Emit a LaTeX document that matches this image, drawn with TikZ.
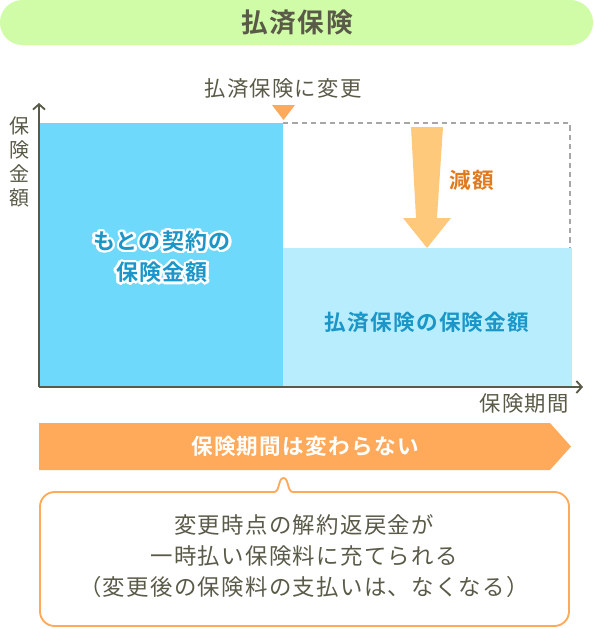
\documentclass[tikz,border=0pt]{standalone}
\usepackage{fontspec}
\setmainfont[LetterSpace=6,BoldFont={Noto Sans CJK JP Bold}]{Noto Sans CJK JP}
\usepackage{contour}
\contourlength{1.8pt}
\usetikzlibrary{arrows.meta,positioning}

\definecolor{barGreen}{HTML}{D0FCA8}
\definecolor{inkGray}{HTML}{5A5A48}
\definecolor{markOrange}{HTML}{FFA95A}
\definecolor{dropOrange}{HTML}{FFC97C}
\definecolor{cutOrange}{HTML}{E07A1F}
\definecolor{oldBlue}{HTML}{6ED9FB}
\definecolor{newBlue}{HTML}{B8EDFD}
\definecolor{labelBlue}{HTML}{1A96C8}

\begin{document}
\begin{tikzpicture}[x=0.75pt,y=-0.75pt,
    word/.style={inner sep=0pt,text=inkGray,font=\fontsize{16}{18}\selectfont},
    heavy/.style={word,font=\fontsize{16.2}{18}\selectfont\bfseries},
    axis/.style={draw=inkGray,line width=1.4pt,-{Straight Barb[length=4pt,width=9pt]}},
    rim/.style={draw=markOrange,line width=1.4pt,line join=round}]
    \useasboundingbox (0,0) rectangle (593,628);

    % title
    \fill[barGreen,rounded corners=16.8pt] (0,0) rectangle (593,45);
    \node[heavy,font=\fontsize{20}{22}\selectfont\bfseries] (title) at (297,22.5) {払済保険};

    % amounts
    \fill[oldBlue] (39,123) rectangle (283,387);
    \fill[newBlue] (283,248) rectangle (572,387);
    \draw[gray!70,line width=1.1pt,dash pattern=on 4pt off 3pt]
        (283,123) -- (570,123) -- (570,248);
    \fill[dropOrange] (411,127) -- (443,127) -- (437,218) -- (451,218)
        -- (427,248) -- (403,218) -- (416,218) -- cycle;
    \node[heavy,text=cutOrange] (cut) at (472,180) {減額};

    \node[word] (change) at (283,88) {払済保険に変更};
    \fill[markOrange] (272,105) -- (295,105) -- (283.5,120) -- cycle;

    \node[heavy,text=labelBlue,align=center,font=\fontsize{16.5}{23.5}\selectfont\bfseries]
        (old) at (162,258) {\contour{white}{もとの契約の}\\\contour{white}{保険金額}};
    \node[heavy,text=labelBlue] (new) at (427,322) {払済保険の保険金額};

    % axes
    \coordinate (O) at (39,387);
    \draw[axis] (O) -- (39,103);
    \draw[axis] (O) -- (583,387);
    \node[word,align=center,font=\fontsize{15}{18}\selectfont] (ylab) at (19,162)
        {保\\険\\金\\額};
    \node[word,anchor=north east] (xlab) at (569,393) {保険期間};

    % term
    \fill[markOrange] (39,423) -- (550,423) -- (571,446.5) -- (550,470) -- (39,470) -- cycle;
    \node[heavy,text=white] (term) at (305,446.5) {保険期間は変わらない};

    % note
    \draw[rim,rounded corners=11pt]
        (293,492) -- (569,492) -- (569,626) -- (40,626) -- (40,492) -- (274,492);
    \draw[rim] (274,492) .. controls (280,492) and (278,478) .. (283.5,478)
        .. controls (289,478) and (287,492) .. (293,492);
    \node[word,align=center,font=\fontsize{16.8}{23.5}\selectfont] (note) at (304,556)
        {変更時点の解約返戻金が\\一時払い保険料に充てられる\\（変更後の保険料の支払いは、なくなる）};
\end{tikzpicture}
\end{document}
